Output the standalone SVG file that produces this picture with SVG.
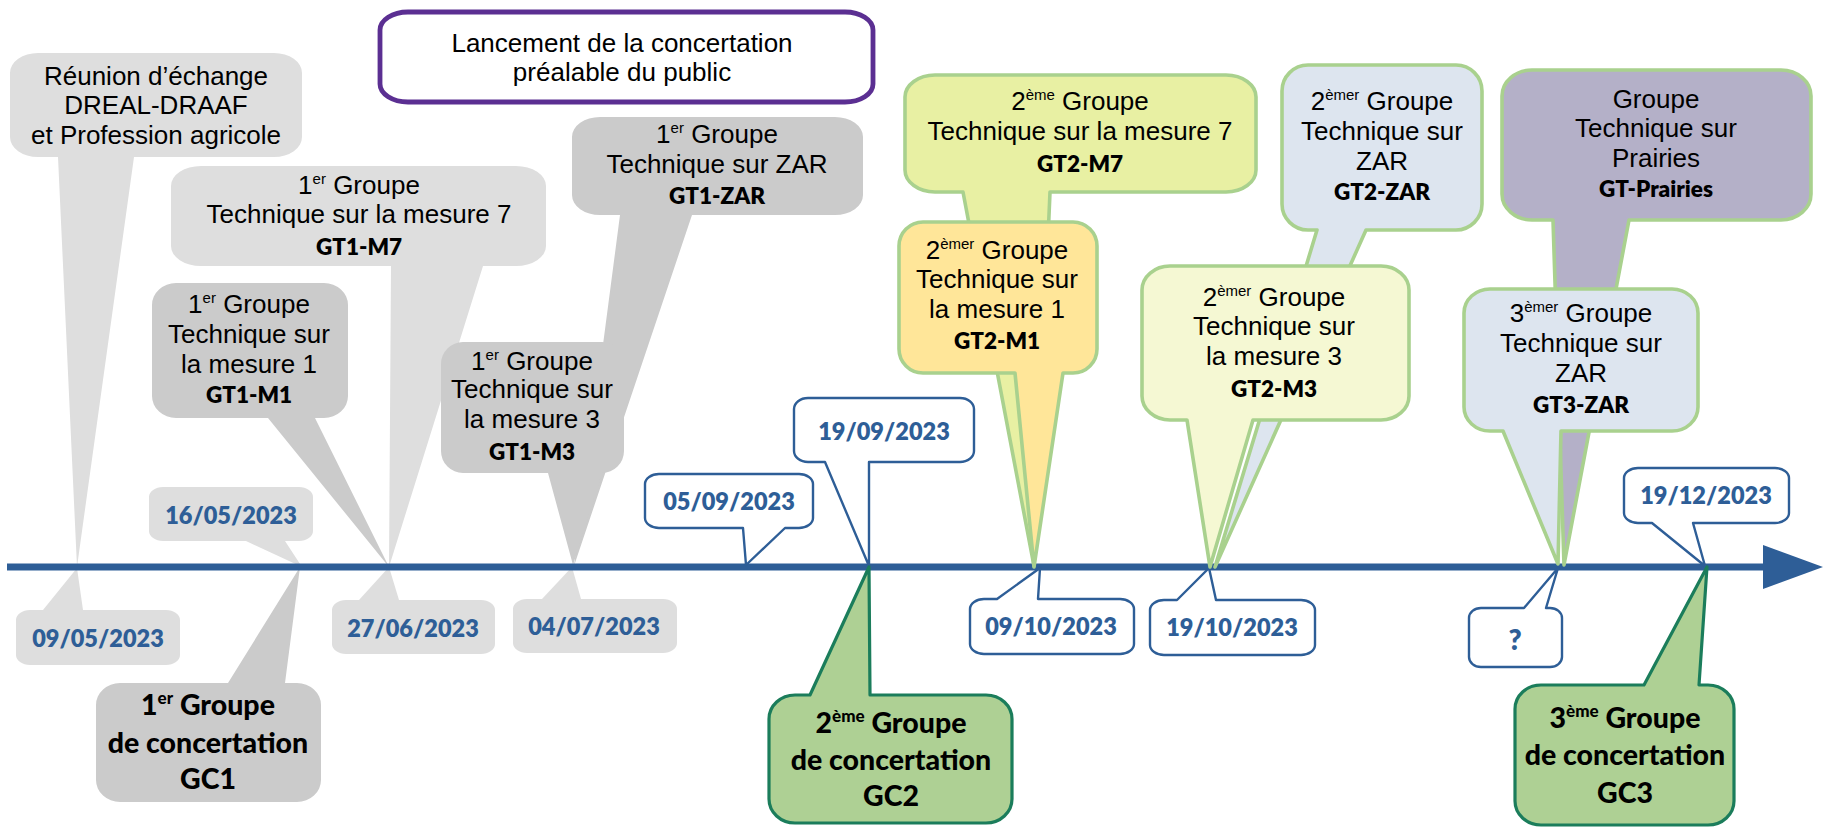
<svg xmlns="http://www.w3.org/2000/svg" width="1823" height="828" viewBox="0 0 1823 828">
<style>
.r{font-family:"Liberation Sans",Arial,sans-serif;font-size:26px;fill:#000;text-anchor:middle}
.b{font-family:Lato,"Noto Sans",sans-serif;font-weight:800;font-size:22.5px;fill:#000;text-anchor:middle}
.d{font-family:Lato,"Noto Sans",sans-serif;font-weight:800;font-size:23.5px;fill:#2E5E97;text-anchor:middle}
.q{font-size:28px}
.g{font-family:Lato,"Noto Sans",sans-serif;font-weight:900;font-size:28.5px;fill:#000;text-anchor:middle}
.s{font-size:15px}
.sg{font-size:17px}
.lg{fill:#DEDEDE}
.dg{fill:#CBCBCB}
.bd{fill:#fff;stroke:#2E5E97;stroke-width:2.4;stroke-linejoin:round}
.gc{fill:#AED094;stroke:#1B7D5B;stroke-width:3.2;stroke-linejoin:round}
.gs{stroke:#A9D18E;stroke-width:3.6;stroke-linejoin:round}
</style>
<rect width="1823" height="828" fill="#fff"/>

<g id="reunion">
<path class="lg" d="M38,53 H274 A28,20 0 0 1 302,73 V137 A28,20 0 0 1 274,157 H134 L77,567 L58,157 H38 A28,20 0 0 1 10,137 V73 A28,20 0 0 1 38,53 Z"/>
<text class="r" x="156" y="85">Réunion d’échange</text>
<text class="r" x="156" y="114">DREAL-DRAAF</text>
<text class="r" x="156" y="144">et Profession agricole</text>
</g>
<g id="gt1-m7">
<path class="lg" d="M201,166 H516 A30,20 0 0 1 546,186 V246 A30,20 0 0 1 516,266 H483 L389,567 L391,266 H201 A30,20 0 0 1 171,246 V186 A30,20 0 0 1 201,166 Z"/>
<text class="r" x="359" y="194">1<tspan class="s" dy="-10">er</tspan><tspan dy="10"> Groupe</tspan></text>
<text class="r" x="359" y="223">Technique sur la mesure 7</text>
<text class="b" x="359" y="255">GT1-M7</text>
</g>
<g id="d0905">
<path class="lg" d="M30,610 H43 L77,568 L83,610 H166 A14,10 0 0 1 180,620 V655 A14,10 0 0 1 166,665 H30 A14,10 0 0 1 16,655 V620 A14,10 0 0 1 30,610 Z"/>
<text class="d" x="98" y="647">09/05/2023</text>
</g>
<g id="d1605">
<path class="lg" d="M163,487 H299 A14,10 0 0 1 313,497 V531 A14,10 0 0 1 299,541 H285 L302,567 L246,541 H163 A14,10 0 0 1 149,531 V497 A14,10 0 0 1 163,487 Z"/>
<text class="d" x="231" y="524">16/05/2023</text>
</g>
<g id="d2706">
<path class="lg" d="M346,600 H359 L389,567 L399,600 H481 A14,10 0 0 1 495,610 V644 A14,10 0 0 1 481,654 H346 A14,10 0 0 1 332,644 V610 A14,10 0 0 1 346,600 Z"/>
<text class="d" x="413" y="637">27/06/2023</text>
</g>
<g id="d0407">
<path class="lg" d="M527,599 H542 L572,567 L581,599 H663 A14,10 0 0 1 677,609 V643 A14,10 0 0 1 663,653 H527 A14,10 0 0 1 513,643 V609 A14,10 0 0 1 527,599 Z"/>
<text class="d" x="594" y="635">04/07/2023</text>
</g>
<g id="gt1-m1">
<path class="dg" d="M176,283 H324 A24,22 0 0 1 348,305 V396 A24,22 0 0 1 324,418 H315 L389,567 L268,418 H176 A24,22 0 0 1 152,396 V305 A24,22 0 0 1 176,283 Z"/>
<text class="r" x="249" y="313">1<tspan class="s" dy="-10">er</tspan><tspan dy="10"> Groupe</tspan></text>
<text class="r" x="249" y="343">Technique sur</text>
<text class="r" x="249" y="373">la mesure 1</text>
<text class="b" x="249" y="403">GT1-M1</text>
</g>
<g id="gt1-zar">
<path class="dg" d="M600,117 H835 A28,20 0 0 1 863,137 V195 A28,20 0 0 1 835,215 H692 L574,566 L620,215 H600 A28,20 0 0 1 572,195 V137 A28,20 0 0 1 600,117 Z"/>
<text class="r" x="717" y="143">1<tspan class="s" dy="-10">er</tspan><tspan dy="10"> Groupe</tspan></text>
<text class="r" x="717" y="173">Technique sur ZAR</text>
<text class="b" x="717" y="204">GT1-ZAR</text>
</g>
<g id="gt1-m3">
<path class="dg" d="M463,342 H602 A22,22 0 0 1 624,364 V451 A22,22 0 0 1 602,473 L573,565 L548,473 H463 A22,22 0 0 1 441,451 V364 A22,22 0 0 1 463,342 Z"/>
<text class="r" x="532" y="370">1<tspan class="s" dy="-10">er</tspan><tspan dy="10"> Groupe</tspan></text>
<text class="r" x="532" y="398">Technique sur</text>
<text class="r" x="532" y="428">la mesure 3</text>
<text class="b" x="532" y="460">GT1-M3</text>
</g>
<g id="gc1">
<path class="dg" d="M120,683 H228 L300,567 L285,683 H297 A24,22 0 0 1 321,705 V780 A24,22 0 0 1 297,802 H120 A24,22 0 0 1 96,780 V705 A24,22 0 0 1 120,683 Z"/>
<text class="g" x="208" y="715">1<tspan class="sg" dy="-11">er</tspan><tspan dy="11"> Groupe</tspan></text>
<text class="g" x="208" y="753">de concertation</text>
<text class="g" x="208" y="789">GC1</text>
</g>

<g id="connectors">
<line x1="7" y1="567" x2="1766" y2="567" stroke="#2E5E97" stroke-width="7"/>
<polygon points="1763,545 1823,567 1763,589" fill="#2E5E97"/>
</g>

<g id="d0509">
<path class="bd" d="M659,474 H799 A14,10 0 0 1 813,484 V518 A14,10 0 0 1 799,528 H785 L746,565 L743,528 H659 A14,10 0 0 1 645,518 V484 A14,10 0 0 1 659,474 Z"/>
<text class="d" x="729" y="510">05/09/2023</text>
</g>
<g id="d1909">
<path class="bd" d="M808,398 H960 A14,11 0 0 1 974,409 V451 A14,11 0 0 1 960,462 H869 L869,566 L825,462 H808 A14,11 0 0 1 794,451 V409 A14,11 0 0 1 808,398 Z"/>
<text class="d" x="884" y="440">19/09/2023</text>
</g>
<g id="d0910">
<path class="bd" d="M984,599 H997 L1040,568 L1038,599 H1120 A14,10 0 0 1 1134,609 V644 A14,10 0 0 1 1120,654 H984 A14,10 0 0 1 970,644 V609 A14,10 0 0 1 984,599 Z"/>
<text class="d" x="1051" y="635">09/10/2023</text>
</g>
<g id="d1910">
<path class="bd" d="M1164,600 H1177 L1209,568 L1216,600 H1301 A14,10 0 0 1 1315,610 V645 A14,10 0 0 1 1301,655 H1164 A14,10 0 0 1 1150,645 V610 A14,10 0 0 1 1164,600 Z"/>
<text class="d" x="1232" y="636">19/10/2023</text>
</g>
<g id="dq">
<path class="bd" d="M1481,608 H1524 L1558,568 L1546,608 H1550 A12,10 0 0 1 1562,618 V657 A12,10 0 0 1 1550,667 H1481 A12,10 0 0 1 1469,657 V618 A12,10 0 0 1 1481,608 Z"/>
<text class="d q" x="1515" y="650">?</text>
</g>
<g id="d1912">
<path class="bd" d="M1638,468 H1775 A14,10 0 0 1 1789,478 V513 A14,10 0 0 1 1775,523 H1693 L1705,566 L1652,523 H1638 A14,10 0 0 1 1624,513 V478 A14,10 0 0 1 1638,468 Z"/>
<text class="d" x="1706" y="504">19/12/2023</text>
</g>

<g id="gc2">
<path class="gc" d="M795,695 H810 L869,567 L870,695 H986 A26,24 0 0 1 1012,719 V799 A26,24 0 0 1 986,823 H795 A26,24 0 0 1 769,799 V719 A26,24 0 0 1 795,695 Z"/>
<text class="g" x="891" y="733">2<tspan class="sg" dy="-11">ème</tspan><tspan dy="11"> Groupe</tspan></text>
<text class="g" x="891" y="770">de concertation</text>
<text class="g" x="891" y="806">GC2</text>
</g>
<g id="gc3">
<path class="gc" d="M1541,685 H1644 L1707,567 L1699,685 H1708 A26,24 0 0 1 1734,709 V801 A26,24 0 0 1 1708,825 H1541 A26,24 0 0 1 1515,801 V709 A26,24 0 0 1 1541,685 Z"/>
<text class="g" x="1625" y="728">3<tspan class="sg" dy="-11">ème</tspan><tspan dy="11"> Groupe</tspan></text>
<text class="g" x="1625" y="765">de concertation</text>
<text class="g" x="1625" y="803">GC3</text>
</g>

<g id="gt2-m7">
<path class="gs" fill="#E8F0A3" d="M935,75 H1226 A30,22 0 0 1 1256,97 V170 A30,22 0 0 1 1226,192 H1050 L1034,566 L963,192 H935 A30,22 0 0 1 905,170 V97 A30,22 0 0 1 935,75 Z"/>
<text class="r" x="1080" y="110">2<tspan class="s" dy="-10">ème</tspan><tspan dy="10"> Groupe</tspan></text>
<text class="r" x="1080" y="140">Technique sur la mesure 7</text>
<text class="b" x="1080" y="172">GT2-M7</text>
</g>
<g id="gt2-m1">
<path class="gs" fill="#FFE699" d="M923,222 H1073 A24,24 0 0 1 1097,246 V349 A24,24 0 0 1 1073,373 H1063 L1034,567 L1015,373 H923 A24,24 0 0 1 899,349 V246 A24,24 0 0 1 923,222 Z"/>
<text class="r" x="997" y="259">2<tspan class="s" dy="-10">èmer</tspan><tspan dy="10"> Groupe</tspan></text>
<text class="r" x="997" y="288">Technique sur</text>
<text class="r" x="997" y="318">la mesure 1</text>
<text class="b" x="997" y="349">GT2-M1</text>
</g>
<g id="gt2-zar">
<path class="gs" fill="#DDE5EF" d="M1308,65 H1456 A26,26 0 0 1 1482,91 V204 A26,26 0 0 1 1456,230 H1366 L1215,567 L1317,230 H1308 A26,26 0 0 1 1282,204 V91 A26,26 0 0 1 1308,65 Z"/>
<text class="r" x="1382" y="110">2<tspan class="s" dy="-10">èmer</tspan><tspan dy="10"> Groupe</tspan></text>
<text class="r" x="1382" y="140">Technique sur</text>
<text class="r" x="1382" y="170">ZAR</text>
<text class="b" x="1382" y="200">GT2-ZAR</text>
</g>
<g id="gt2-m3">
<path class="gs" fill="#F5F8D3" d="M1170,266 H1381 A28,24 0 0 1 1409,290 V396 A28,24 0 0 1 1381,420 H1253 L1210,567 L1187,420 H1170 A28,24 0 0 1 1142,396 V290 A28,24 0 0 1 1170,266 Z"/>
<text class="r" x="1274" y="306">2<tspan class="s" dy="-10">èmer</tspan><tspan dy="10"> Groupe</tspan></text>
<text class="r" x="1274" y="335">Technique sur</text>
<text class="r" x="1274" y="365">la mesure 3</text>
<text class="b" x="1274" y="397">GT2-M3</text>
</g>
<g id="gt-prairies">
<path class="gs" fill="#B4B0C8" d="M1532,70 H1781 A30,26 0 0 1 1811,96 V194 A30,26 0 0 1 1781,220 H1629 L1564,565 L1553,220 H1532 A30,26 0 0 1 1502,194 V96 A30,26 0 0 1 1532,70 Z"/>
<text class="r" x="1656" y="108">Groupe</text>
<text class="r" x="1656" y="137">Technique sur</text>
<text class="r" x="1656" y="167">Prairies</text>
<text class="b" x="1656" y="197">GT-Prairies</text>
</g>
<g id="gt3-zar">
<path class="gs" fill="#DDE5EF" d="M1490,289 H1672 A26,24 0 0 1 1698,313 V407 A26,24 0 0 1 1672,431 H1561 L1558,564 L1503,431 H1490 A26,24 0 0 1 1464,407 V313 A26,24 0 0 1 1490,289 Z"/>
<text class="r" x="1581" y="322">3<tspan class="s" dy="-10">èmer</tspan><tspan dy="10"> Groupe</tspan></text>
<text class="r" x="1581" y="352">Technique sur</text>
<text class="r" x="1581" y="382">ZAR</text>
<text class="b" x="1581" y="413">GT3-ZAR</text>
</g>

<g id="lancement">
<rect x="380" y="12" width="493" height="90" rx="28" ry="18" fill="#fff" stroke="#5B2F92" stroke-width="4.8"/>
<text class="r" x="622" y="52">Lancement de la concertation</text>
<text class="r" x="622" y="81">préalable du public</text>
</g>
</svg>
